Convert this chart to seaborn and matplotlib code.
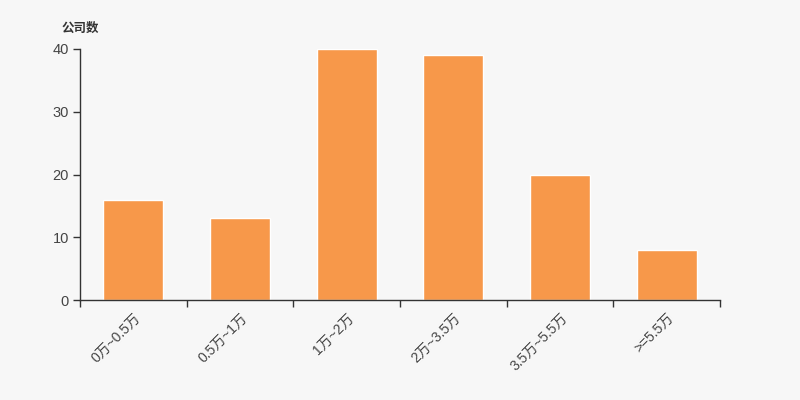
import matplotlib
matplotlib.use('Agg')
import matplotlib.pyplot as plt
import seaborn as sns
import numpy as np
import pandas as pd

categories = ['0万~0.5万', '0.5万~1万', '1万~2万', '2万~3.5万', '3.5万~5.5万', '>=5.5万']
counts = [16, 13, 40, 39, 20, 8]
y_ticks = [0, 10, 20, 30, 40]

sns.set_style('white')
plt.rcParams['font.family'] = ['Liberation Sans', 'Noto Sans CJK SC', 'DejaVu Sans']

df = pd.DataFrame({'区间': categories, '公司数': counts})

fig = plt.figure(figsize=(8, 4), dpi=100, facecolor='#f7f7f7')
ax = fig.add_axes([0.1, 0.25, 0.8, 0.6275])
ax.set_facecolor('#f7f7f7')

sns.barplot(data=df, x='区间', y='公司数', color='#f7984a', saturation=1, width=0.56, ax=ax)

ax.set_xlim(-0.5, len(categories) - 0.5)
ax.set_ylim(0, 40)
ax.set_yticks(y_ticks)
ax.set_yticklabels([str(v) for v in y_ticks])

# ticks on category boundaries, labels under bars
ax.set_xticks(np.arange(-0.5, len(categories), 1.0))
ax.set_xticklabels([])
ax.set_xticks(range(len(categories)), minor=True)
ax.set_xticklabels(categories, minor=True, rotation=45, ha='right', rotation_mode='anchor')
ax.tick_params(axis='x', which='minor', length=0, pad=8, labelsize=10, labelcolor='#444444')
ax.tick_params(axis='x', which='major', length=5, width=1, color='#333333', bottom=True)
ax.tick_params(axis='y', length=5, width=1, color='#333333', left=True, labelsize=10.5, labelcolor='#444444', pad=3)

ax.spines[['top', 'right']].set_visible(False)
for s in ['left', 'bottom']:
    ax.spines[s].set_color('#333333')
    ax.spines[s].set_linewidth(1)

ax.set_xlabel(None)
ax.set_ylabel(None)
fig.text(0.0775, 0.93, '公司数', fontsize=9, weight='bold', color='#333333', ha='left', va='center',
         family=['Noto Sans CJK SC', 'DejaVu Sans'])

fig.savefig('out.png', dpi=100, facecolor='#f7f7f7')
